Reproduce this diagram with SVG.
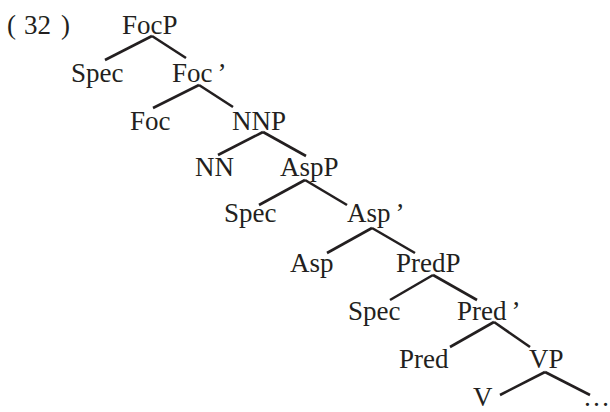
<svg xmlns="http://www.w3.org/2000/svg" width="610" height="412" viewBox="0 0 610 412">
<style>
text{font-family:"Liberation Serif","Times New Roman",serif;font-size:27px;fill:#231f20}
.e line{stroke:#231f20;stroke-width:2.6;stroke-linecap:butt}
</style>
<rect width="610" height="412" fill="#fff"/>
<g id="label"><text x="7" y="34">(</text><text x="24" y="34">32</text><text x="61" y="34">)</text></g>
<g class="e" id="connectors">
<line x1="152" y1="36" x2="105" y2="60"/><line x1="152" y1="36" x2="186" y2="58"/>
<line x1="199" y1="85" x2="153" y2="108"/><line x1="199" y1="85" x2="233" y2="107"/>
<line x1="263" y1="132" x2="218" y2="155"/><line x1="263" y1="132" x2="306" y2="156"/>
<line x1="305" y1="180" x2="259" y2="205"/><line x1="305" y1="180" x2="347" y2="205"/>
<line x1="372" y1="228" x2="327" y2="253"/><line x1="372" y1="228" x2="415" y2="253"/>
<line x1="433" y1="275" x2="390" y2="300"/><line x1="433" y1="275" x2="477" y2="300"/>
<line x1="494" y1="322" x2="450" y2="347"/><line x1="494" y1="322" x2="530" y2="347"/>
<line x1="545" y1="372" x2="500" y2="395"/><line x1="545" y1="372" x2="590" y2="395"/>
</g>
<g id="FocP"><text x="122" y="34">FocP</text></g>
<g id="Spec1"><text x="71" y="82">Spec</text></g>
<g id="FocBar"><text x="172" y="82">Foc<tspan dx="5">’</tspan></text></g>
<g id="Foc"><text x="130" y="130">Foc</text></g>
<g id="NNP"><text x="232" y="130">NNP</text></g>
<g id="NN"><text x="195" y="176">NN</text></g>
<g id="AspP"><text x="280" y="176">AspP</text></g>
<g id="Spec2"><text x="224" y="222">Spec</text></g>
<g id="AspBar"><text x="347" y="222">Asp<tspan dx="5">’</tspan></text></g>
<g id="Asp"><text x="290" y="272">Asp</text></g>
<g id="PredP"><text x="396" y="272">PredP</text></g>
<g id="Spec3"><text x="348" y="320">Spec</text></g>
<g id="PredBar"><text x="457" y="320">Pred<tspan dx="5">’</tspan></text></g>
<g id="Pred"><text x="399" y="368">Pred</text></g>
<g id="VP"><text x="529" y="368">VP</text></g>
<g id="V"><text x="473" y="406">V</text></g>
<g id="dots"><text x="583" y="406">…</text></g>
</svg>
